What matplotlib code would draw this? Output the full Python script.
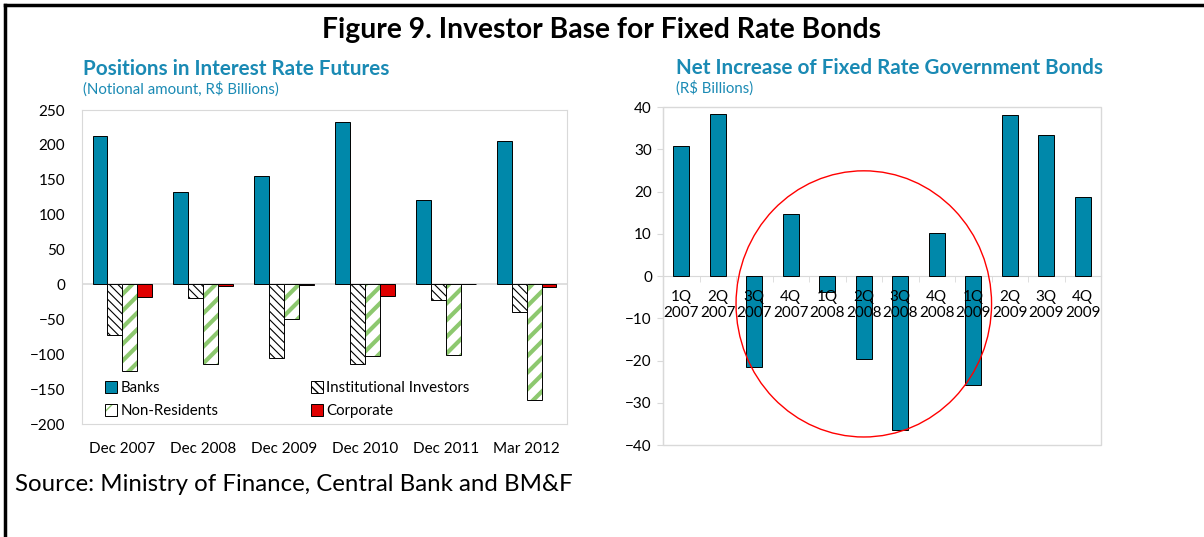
import numpy as np
import matplotlib.pyplot as plt
from matplotlib.patches import Ellipse, Rectangle
from matplotlib.lines import Line2D

plt.rcParams['font.family'] = ['Lato', 'DejaVu Sans']

# left panel: positions in interest rate futures (R$ bn)
periods = ['Dec 2007', 'Dec 2008', 'Dec 2009', 'Dec 2010', 'Dec 2011', 'Mar 2012']
banks = [213, 133, 156, 233, 121, 206]
institutional = [-72, -20, -106, -114, -22, -39]
non_residents = [-124, -114, -50, -103, -101, -166]
corporate = [-18, -2, -1, -17, 1, -4]

# right panel: net increase of fixed rate government bonds (R$ bn)
quarters = ['1Q\n2007', '2Q\n2007', '3Q\n2007', '4Q\n2007', '1Q\n2008', '2Q\n2008',
            '3Q\n2008', '4Q\n2008', '1Q\n2009', '2Q\n2009', '3Q\n2009', '4Q\n2009']
net_increase = [30.8, 38.3, -21.6, 14.7, -3.7, -19.7, -36.5, 10.1, -25.7, 38.1, 33.3, 18.8]

TEAL = '#0088aa'
TITLE = '#1a8ab4'
GREEN = '#8dc86f'
GRID = '#d9d9d9'

fig = plt.figure(figsize=(12.04, 5.37), dpi=100)

# frame lines on top and left of the figure box
fig.add_artist(Line2D([0.004, 0.004], [0, 0.991], color='black', lw=2.5))
fig.add_artist(Line2D([0.004, 1.0], [0.991, 0.991], color='black', lw=2.5))

fig.text(0.5, 0.945, 'Figure 9. Investor Base for Fixed Rate Bonds', ha='center', va='center',
         fontsize=20.3, fontweight='bold')
fig.text(0.0125, 0.098, 'Source: Ministry of Finance, Central Bank and BM&F', ha='left', va='center',
         fontsize=17.3)

# ---- left chart ----
ax1 = fig.add_axes([0.0681, 0.2104, 0.4028, 0.5847])
x = np.arange(len(periods))
w = 0.185
ax1.bar(x - 1.5 * w, banks, w, color=TEAL, edgecolor='black', lw=0.7, label='Banks', zorder=3)
with plt.rc_context({'hatch.linewidth': 0.8}):
    ax1.bar(x - 0.5 * w, institutional, w, color='white', edgecolor='black', hatch='\\\\\\\\',
            lw=0.7, label='Institutional Investors', zorder=3)
with plt.rc_context({'hatch.linewidth': 3.0}):
    nr = ax1.bar(x + 0.5 * w, non_residents, w, color='white', edgecolor=GREEN, hatch='//',
                 lw=0, zorder=3)
nr_edge = ax1.bar(x + 0.5 * w, non_residents, w, fill=False, edgecolor='black', lw=0.7, zorder=4)
ax1.bar(x + 1.5 * w, corporate, w, color='#e00000', edgecolor='black', lw=0.7, label='Corporate', zorder=3)

ax1.set_ylim(-200, 250)
ax1.set_yticks(np.arange(-200, 251, 50))
ax1.set_xlim(-0.5, len(periods) - 0.5)
ax1.set_xticks(x)
ax1.set_xticklabels(periods)
ax1.axhline(0, color=GRID, lw=1.2, zorder=2)
for s in ax1.spines.values():
    s.set_color(GRID)
ax1.tick_params(axis='x', length=0, labelsize=11, pad=13)
ax1.tick_params(axis='y', length=0, labelsize=11, pad=12)

h = ax1.get_legend_handles_labels()[0]
handles = [h[0], (nr, nr_edge), h[1], h[2]]
labels = ['Banks', 'Non-Residents', 'Institutional Investors', 'Corporate']
ax1.legend(handles, labels, ncol=2, loc='lower left', bbox_to_anchor=(0.02, -0.025),
           frameon=False, fontsize=10.8, handlelength=0.8, handleheight=0.8,
           handletextpad=0.2, columnspacing=6.2, labelspacing=0.6)

ax1.text(0.003, 1.13, 'Positions in Interest Rate Futures', transform=ax1.transAxes,
         fontsize=14.9, fontweight='bold', color=TITLE, ha='left', va='center')
ax1.text(0.003, 1.068, '(Notional amount, R$ Billions)', transform=ax1.transAxes,
         fontsize=10.8, color=TITLE, ha='left', va='center')

# ---- right chart ----
ax2 = fig.add_axes([0.5507, 0.1713, 0.3638, 0.6294])
q = np.arange(len(quarters))
ax2.bar(q, net_increase, 0.44, color=TEAL, edgecolor='black', lw=0.7, zorder=3)
ax2.set_ylim(-40, 40)
ax2.set_yticks(np.arange(-40, 41, 10))
ax2.set_xlim(-0.5, len(quarters) - 0.5)
ax2.set_xticks(q)
ax2.set_xticklabels(quarters, linespacing=1.5)
ax2.set_xticks(np.arange(-0.5, len(quarters), 1), minor=True)
ax2.spines['bottom'].set_position(('data', 0))
for s in ax2.spines.values():
    s.set_color(GRID)
ax2.spines['top'].set_visible(False)
ax2.spines['right'].set_visible(False)
ax2.add_patch(Rectangle((0, 0), 1, 1, transform=ax2.transAxes, fill=False,
                        edgecolor=GRID, lw=1, zorder=1, clip_on=False))
ax2.tick_params(axis='x', which='major', length=0, labelsize=11, pad=10)
ax2.tick_params(axis='x', which='minor', length=4, color=GRID, direction='out')
ax2.tick_params(axis='y', length=4, color=GRID, labelsize=11, pad=4)
ax2.xaxis.set_zorder(5)

ax2.add_patch(Ellipse((5.0, -6.6), 7.0, 63, fill=False, edgecolor='#ff0000', lw=1.0, zorder=6))

ax2.text(0.03, 1.115, 'Net Increase of Fixed Rate Government Bonds', transform=ax2.transAxes,
         fontsize=14.9, fontweight='bold', color=TITLE, ha='left', va='center')
ax2.text(0.03, 1.055, '(R$ Billions)', transform=ax2.transAxes,
         fontsize=10.8, color=TITLE, ha='left', va='center')

fig.savefig('out.png', dpi=100)
